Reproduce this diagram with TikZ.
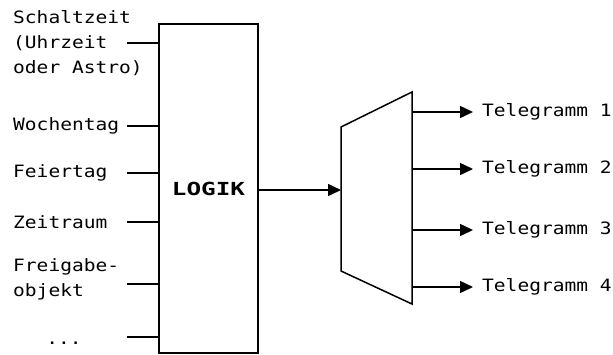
\documentclass[tikz,border=0pt]{standalone}
\usepackage{fontspec}
\newfontfamily\pixfont[FakeStretch=1.15]{DejaVu Sans Mono}
\newfontfamily\logikfont[FakeStretch=1.35]{DejaVu Sans Mono}
\usetikzlibrary{arrows.meta, positioning, calc}

\begin{document}
\begin{tikzpicture}[x=1pt, y=-1pt,
    every node/.style={font=\pixfont\fontsize{17}{25}\selectfont, inner sep=0pt},
    wire/.style={line width=1.5pt},
    sig/.style={wire, -{Triangle[length=13pt, width=12pt]}},
]
    \useasboundingbox (0,0) rectangle (613,354);

    % Logic block
    \node[wire, draw, minimum width=99pt, minimum height=329pt,
          font=\logikfont\bfseries\fontsize{18}{25}\selectfont] (logik) at (208.5,188.5) {LOGIK};

    % Inputs
    \node[anchor=west, align=left] (tzeit) at (13,43) {Schaltzeit\\(Uhrzeit\\oder Astro)};
    \node[anchor=west] (twoche) at (13,126) {Wochentag};
    \node[anchor=west] (tfeier) at (13,173) {Feiertag};
    \node[anchor=west] (traum) at (13,222) {Zeitraum};
    \node[anchor=west, align=left] (tfrei) at (13,279.5) {Freigabe-\\objekt};
    \node (tmore) at (64,343) {...};

    \foreach \y/\n in {43/zeit, 126/woche, 173/feier, 222/raum, 284/frei, 337/more} {
        \coordinate (\n) at (127,\y);
        \draw[wire] (\n) -- (\n -| logik.west);
    }

    % Multiplexer
    \coordinate (mtl) at (341,127);
    \coordinate (mtr) at (412,92);
    \coordinate (mbr) at (412,304);
    \coordinate (mbl) at (341,271);
    \draw[wire] (mtl) -- (mtr) -- (mbr) -- (mbl) -- cycle;

    \coordinate (min) at (341,190);
    \draw[sig] (logik.east |- min) -- (min);

    % Outputs
    \foreach \i/\y in {1/112, 2/169, 3/230, 4/287} {
        \coordinate (o\i) at (412,\y);
        \node[anchor=west] (tel\i) at (482,\y) {Telegramm \i};
        \draw[sig] (o\i) -- ([xshift=-9pt]tel\i.west);
    }
\end{tikzpicture}
\end{document}
